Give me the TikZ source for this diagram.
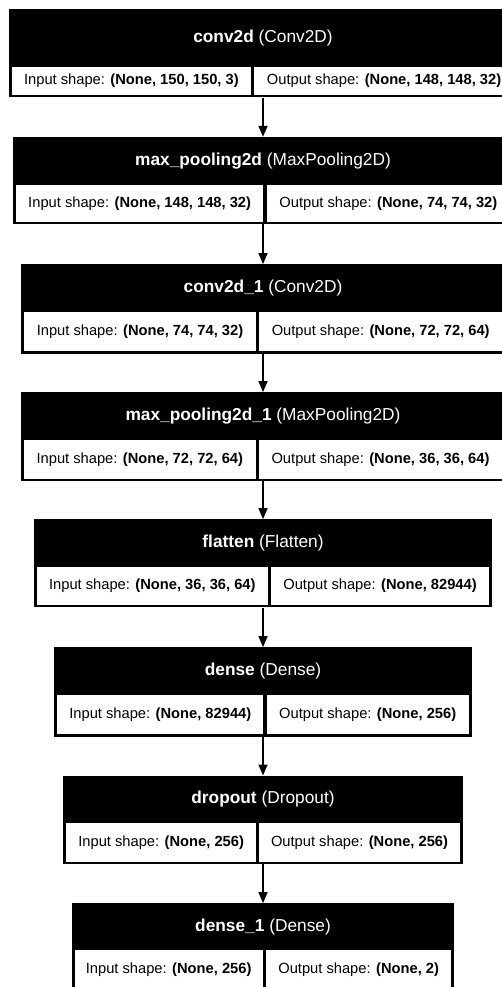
\documentclass[tikz,border=0pt]{standalone}
\usepackage{fontspec}
\setmainfont{Liberation Sans}
\usetikzlibrary{arrows.meta,fit}
\tikzset{
  blockbox/.style={fill=black, draw=none, inner sep=0pt},
  cellbox/.style={fill=white, draw=none, inner sep=0pt},
  celltext/.style={text=black, inner sep=0pt, font=\fontsize{14.7}{17}\selectfont},
  hdrtext/.style={text=white, inner sep=0pt, font=\fontsize{17.3}{20}\selectfont},
  flow/.style={line width=1.5pt, -{Triangle[length=11pt,width=9pt]}},
}
\newcommand\lyr[9]{%
  \node[blockbox, fit={(#5,#2) ({526-#5},#4)}] (#1) {};
  \node[hdrtext] (#1-h) at (263,{(#2+#3)/2}) {#7};
  \node[cellbox, fit={({#5+3},#3) ({#6-1.7},{#4-2.5})}] (#1-in) {};
  \node[cellbox, fit={({#6+1.7},#3) ({526-#5-3},{#4-2.5})}] (#1-out) {};
  \node[celltext] (#1-it) at (#1-in.center) {Input shape: \textbf{#8}};
  \node[celltext] (#1-ot) at (#1-out.center) {Output shape: \textbf{#9}};
}
\begin{document}
\begin{tikzpicture}[x=1pt,y=-1pt]
  \useasboundingbox (0,0) rectangle (502,987);
  \clip (0,0) rectangle (502,987);
  \fill[white] (0,0) rectangle (502,987);
  \lyr{l1}{9}{67}{97.5}{9}{252.5}{\textbf{conv2d} (Conv2D)}{(None, 150, 150, 3)}{(None, 148, 148, 32)}
  \lyr{l2}{137}{185}{224}{13}{265}{\textbf{max\_pooling2d} (MaxPooling2D)}{(None, 148, 148, 32)}{(None, 74, 74, 32)}
  \lyr{l3}{264.3}{312.3}{353.5}{21}{257.7}{\textbf{conv2d\_1} (Conv2D)}{(None, 74, 74, 32)}{(None, 72, 72, 64)}
  \lyr{l4}{392.3}{440}{481}{21}{257.3}{\textbf{max\_pooling2d\_1} (MaxPooling2D)}{(None, 72, 72, 64)}{(None, 36, 36, 64)}
  \lyr{l5}{519.3}{566.7}{607.3}{34}{269.3}{\textbf{flatten} (Flatten)}{(None, 36, 36, 64)}{(None, 82944)}
  \lyr{l6}{647.3}{695}{736.7}{54.3}{265}{\textbf{dense} (Dense)}{(None, 82944)}{(None, 256)}
  \lyr{l7}{775.7}{823.3}{864}{63.3}{257.7}{\textbf{dropout} (Dropout)}{(None, 256)}{(None, 256)}
  \lyr{l8}{903.3}{950}{991}{71.7}{264.3}{\textbf{dense\_1} (Dense)}{(None, 256)}{(None, 2)}
  \draw[flow] (l1.south) -- (l2.north);
  \draw[flow] (l2.south) -- (l3.north);
  \draw[flow] (l3.south) -- (l4.north);
  \draw[flow] (l4.south) -- (l5.north);
  \draw[flow] (l5.south) -- (l6.north);
  \draw[flow] (l6.south) -- (l7.north);
  \draw[flow] (l7.south) -- (l8.north);
\end{tikzpicture}
\end{document}
